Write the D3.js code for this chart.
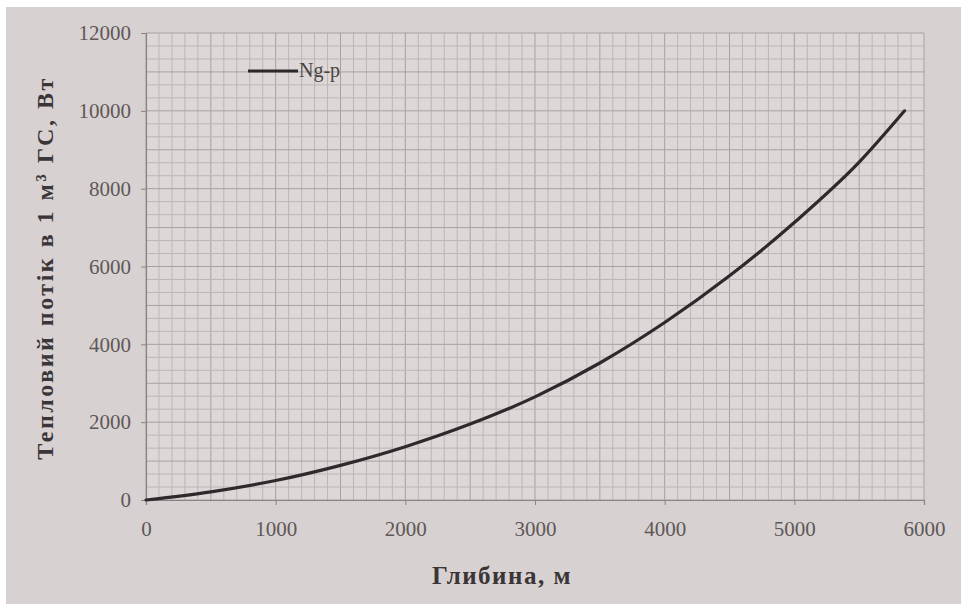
<!DOCTYPE html>
<html>
<head>
<meta charset="utf-8">
<script src="https://cdn.jsdelivr.net/npm/d3@7"></script>
<style>
  html, body { margin: 0; padding: 0; background: #ffffff; }
  svg { display: block; }
</style>
</head>
<body>
<svg id="chart" width="961" height="604"></svg>
<script>
// Heat flow per 1 m³ of gas vs depth
const depth = [0, 500, 1000, 1500, 2000, 2500, 3000, 3500, 4000, 4500, 5000, 5500, 5850];
const heatFlow = [0, 210, 500, 890, 1370, 1950, 2650, 3520, 4560, 5760, 7130, 8680, 10000];
const xTicks = [0, 1000, 2000, 3000, 4000, 5000, 6000];
const yTicks = [0, 2000, 4000, 6000, 8000, 10000, 12000];
const seriesName = "Ng-p";
const xTitle = "Глибина, м";
const yTitle = "Тепловий потік в 1 м³ ГС, Вт";

const svg = d3.select("#chart");
const W = 961, H = 604;
const m = { left: 146, right: 924, top: 33, bottom: 500 };

// paper background
svg.append("rect").attr("x", 0).attr("y", 0).attr("width", W).attr("height", H).attr("fill", "#ffffff");
svg.append("rect").attr("x", 6).attr("y", 7).attr("width", W - 6).attr("height", H - 7).attr("fill", "#d8d1d1");

const x = d3.scaleLinear().domain([0, 6000]).range([m.left, m.right]);
const y = d3.scaleLinear().domain([0, 12000]).range([m.bottom, m.top]);

// plot area
svg.append("rect")
  .attr("x", m.left).attr("y", m.top)
  .attr("width", m.right - m.left).attr("height", m.bottom - m.top)
  .attr("fill", "#ddd7d7");

// fine grid
const grid = svg.append("g");
const xMinor = d3.range(0, 6000 + 1, 100);
const yMinor = d3.range(0, 12000 + 1, 2000 / 6);
grid.selectAll("line.vx").data(xMinor).join("line")
  .attr("x1", d => x(d)).attr("x2", d => x(d))
  .attr("y1", m.top).attr("y2", m.bottom)
  .attr("stroke", (d, i) => i % 5 === 0 ? "#a7a1a1" : "#bcb6b6")
  .attr("stroke-width", 1);
grid.selectAll("line.hy").data(yMinor).join("line")
  .attr("y1", d => y(d)).attr("y2", d => y(d))
  .attr("x1", m.left).attr("x2", m.right)
  .attr("stroke", (d, i) => i % 3 === 0 ? "#a7a1a1" : "#bcb6b6")
  .attr("stroke-width", 1);

// axes
const font = "'Liberation Serif', 'DejaVu Serif', serif";
const xAxis = svg.append("g").attr("transform", `translate(0,${m.bottom})`)
  .call(d3.axisBottom(x).tickValues(xTicks).tickSize(5).tickPadding(16).tickFormat(d3.format("d")));
const yAxis = svg.append("g").attr("transform", `translate(${m.left},0)`)
  .call(d3.axisLeft(y).tickValues(yTicks).tickSize(5).tickPadding(10).tickFormat(d3.format("d")));
[xAxis, yAxis].forEach(g => {
  g.select(".domain").attr("stroke", "#8a8484").attr("stroke-width", 1.2);
  g.selectAll(".tick line").attr("stroke", "#8a8484");
  g.selectAll(".tick text").attr("fill", "#5e5858").style("font-family", font).style("font-size", "21px");
});

// curve
const pts = depth.map((d, i) => [d, heatFlow[i]]);
const line = d3.line().x(d => x(d[0])).y(d => y(d[1])).curve(d3.curveMonotoneX);
svg.append("path").datum(pts)
  .attr("d", line)
  .attr("fill", "none")
  .attr("stroke", "#2e2a2b")
  .attr("stroke-width", 3.2)
  .attr("stroke-linecap", "round");

// legend
svg.append("line")
  .attr("x1", 248).attr("x2", 298).attr("y1", 71).attr("y2", 71)
  .attr("stroke", "#2e2a2b").attr("stroke-width", 3.2);
svg.append("text")
  .attr("x", 299).attr("y", 77)
  .attr("fill", "#4a4545")
  .style("font-family", font).style("font-size", "20px")
  .text(seriesName);

// axis titles
svg.append("text")
  .attr("x", 502).attr("y", 584)
  .attr("text-anchor", "middle")
  .attr("fill", "#3a3536")
  .style("font-family", font).style("font-size", "25px").style("font-weight", "bold")
  .style("letter-spacing", "1.5px")
  .text(xTitle);
svg.append("text")
  .attr("transform", "translate(53,268) rotate(-90)")
  .attr("text-anchor", "middle")
  .attr("fill", "#3a3536")
  .style("font-family", font).style("font-size", "24px").style("font-weight", "bold")
  .style("letter-spacing", "2.5px")
  .text(yTitle);
</script>
</body>
</html>
